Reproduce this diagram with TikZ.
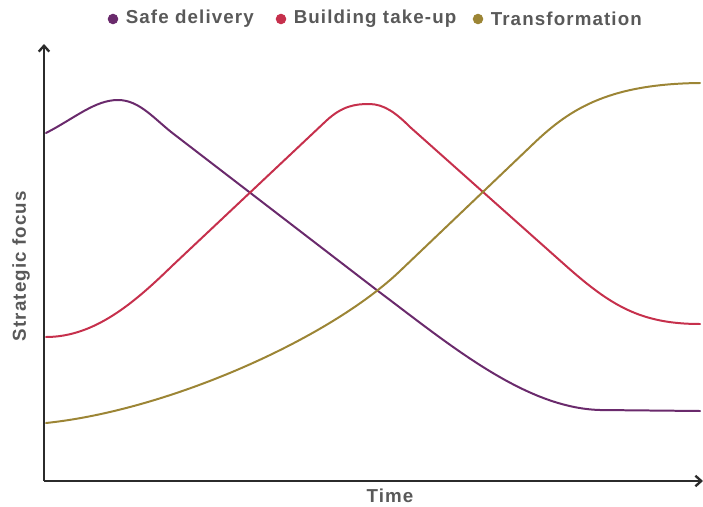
\documentclass[tikz,border=0pt]{standalone}
\usepackage{fontspec}
\setmainfont{Liberation Sans}[LetterSpace=6]
\usepackage{xcolor}
\usepackage{tikz}
\usetikzlibrary{positioning,arrows.meta}
\definecolor{safecol}{HTML}{6A2A6C}
\definecolor{buildcol}{HTML}{C6304C}
\definecolor{transcol}{HTML}{9C8535}
\definecolor{labelgray}{HTML}{595959}
\definecolor{axisgray}{HTML}{2B2B2B}

\begin{document}
\begin{tikzpicture}[x=0.03cm, y=-0.03cm,
    axisline/.style={line width=2pt, axisgray, -{Straight Barb[length=5pt,width=9pt]}},
    curve/.style={line width=1.7pt, line cap=round, line join=round},
    labtext/.style={font=\fontsize{16}{19}\selectfont\bfseries, text=labelgray, inner sep=1pt},
    legdot/.style={circle, inner sep=0pt, minimum size=9pt}]
  \useasboundingbox (0,0) rectangle (703,506);

  % ---- Axes ----
  \coordinate (origin) at (44,481);
  \coordinate (ytip) at (44,44);
  \coordinate (xtip) at (703,481);
  \draw[axisline] (origin) -- (ytip);
  \draw[axisline] (origin) -- (xtip);
  \node[labtext] (timelab) at (390,496) {Time};
  \node[labtext, rotate=90] (focuslab) at (21,266) {Strategic focus};

  % ---- Curves ----
  % Safe delivery: early peak, then falls away
  \draw[curve, safecol] (46,133) .. controls (75,118) and (95,100) .. (118,100)
    .. controls (140,100) and (155,120) .. (175,135) -- (378,291)
    .. controls (450,345) and (525,408) .. (600,410) -- (700,411);
  % Building take-up: peak in the middle
  \draw[curve, buildcol] (46,337) .. controls (95,337) and (135,302) .. (172,266)
    -- (326,121) .. controls (342,106) and (355,104) .. (369,104)
    .. controls (384,104) and (396,113) .. (410,127) -- (565,265)
    .. controls (610,305) and (640,324) .. (700,324);
  % Transformation: slow start, rises to the top
  \draw[curve, transcol] (46,423) .. controls (170,410) and (330,338) .. (400,271)
    -- (530,147) .. controls (567,111) and (605,84) .. (700,83);

  % ---- Legend ----
  \node[legdot, fill=safecol] (safedot) at (113,19) {};
  \node[labtext, right=5pt of safedot] (safelab) {Safe delivery};
  \node[legdot, fill=buildcol] (builddot) at (281,19) {};
  \node[labtext, right=5pt of builddot] (buildlab) {Building take-up};
  \node[legdot, fill=transcol] (transdot) at (478,19) {};
  \node[labtext, right=5pt of transdot] (translab) {Transformation};
\end{tikzpicture}
\end{document}
